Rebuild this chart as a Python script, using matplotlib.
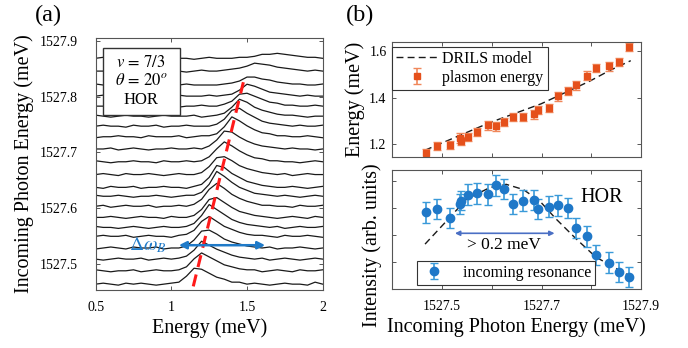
import numpy as np
import matplotlib.pyplot as plt
from matplotlib.patches import Rectangle

plt.rcParams['font.family'] = ['Liberation Serif', 'DejaVu Serif']
plt.rcParams['mathtext.fontset'] = 'stix'

# ------------------ PANEL (a): waterfall spectra ------------------
energy = [0.50, 0.55, 0.60, 0.65, 0.70, 0.75, 0.80, 0.85, 0.90, 0.95,
          1.00, 1.05, 1.10, 1.15, 1.20, 1.25, 1.30, 1.35, 1.40, 1.45,
          1.50, 1.55, 1.60, 1.65, 1.70, 1.75, 1.80, 1.85, 1.90, 1.95, 2.00]

# incoming photon energy (baseline) of every spectrum, bottom to top
incoming = [1527.463, 1527.487, 1527.508, 1527.528, 1527.549, 1527.565,
            1527.583, 1527.603, 1527.621, 1527.637, 1527.660, 1527.683,
            1527.706, 1527.728, 1527.747, 1527.765, 1527.783, 1527.801,
            1527.821, 1527.846, 1527.869]

# spectra (arb. units, same order as incoming)
spectra = [
    [0, 1, 0, -1, 1, 0, 1, 0, -1, 0, 1, 2, 8, 16, 15, 11, 7, 5, 2, 2, 0, 1, 0, -1, 0, 1, 0, 0, -1, 2, 0],
    [1, 0, -1, 0, 0, 1, -1, 0, 1, 0, 0, 1, 4, 12, 18, 14, 10, 6, 4, 2, 1, 1, -1, 0, 1, 0, -1, 1, 0, 0, 1],
    [0, -1, 0, 1, 0, 0, 1, -1, 0, 1, 0, 1, 3, 9, 18, 14, 10, 7, 4, 2, 1, 0, 1, -1, 0, 1, 0, -1, 0, 1, 0],
    [-1, 0, 1, 0, -1, 1, 0, 0, 1, -1, 0, 0, 2, 8, 17, 18, 14, 9, 6, 4, 2, 1, 0, 1, -1, 0, 0, 1, 0, -1, 0],
    [0, 1, 0, 0, 1, -1, 0, 1, 0, 0, -1, 1, 2, 6, 15, 20, 15, 10, 7, 4, 2, 1, 1, 0, -1, 1, 0, 0, 1, 0, -1],
    [1, 0, 0, -1, 0, 1, 0, -1, 0, 1, 0, 0, 1, 4, 12, 23, 18, 13, 8, 5, 3, 2, 1, 0, 1, -1, 0, 1, 0, 0, 1],
    [0, 0, 1, 0, -1, 0, 1, 0, 0, -1, 1, 0, 0, 2, 8, 18, 20, 15, 10, 6, 4, 2, 1, 0, -1, 0, 1, 0, -1, 1, 0],
    [0, 1, -1, 0, 1, 0, 0, 1, -1, 0, 0, 1, 0, 2, 7, 17, 23, 18, 12, 8, 5, 3, 1, 1, 0, 0, -1, 1, 0, 0, 1],
    [1, 0, 0, 1, 0, -1, 0, 0, 1, 0, -1, 0, 1, 1, 4, 12, 25, 20, 14, 9, 6, 3, 2, 1, 0, 1, 0, -1, 0, 1, 0],
    [0, -1, 1, 0, 0, 1, -1, 0, 0, 1, 0, 0, -1, 1, 3, 10, 22, 20, 14, 10, 6, 4, 2, 1, 0, 0, 1, 0, -1, 0, 1],
    [0, 1, 0, -1, 1, 0, 0, 1, 0, -1, 0, 1, 0, 0, 2, 8, 17, 18, 14, 9, 6, 4, 2, 1, 0, 1, -1, 0, 1, 0, 0],
    [1, 0, -1, 0, 0, 1, 0, 0, -1, 1, 0, 0, 1, 0, 1, 5, 13, 20, 16, 11, 7, 4, 3, 1, 1, 0, 0, -1, 0, 1, 0],
    [0, 0, 1, -1, 0, 1, 0, -1, 0, 0, 1, 0, 0, 1, 0, 3, 9, 18, 17, 12, 8, 5, 3, 2, 1, 0, 1, 0, 0, -1, 0],
    [-1, 0, 0, 1, 0, 0, -1, 1, 0, 0, 0, 1, -1, 0, 1, 1, 3, 10, 20, 16, 11, 7, 4, 3, 1, 1, 0, 0, 1, 0, -1],
    [0, 1, 0, 0, -1, 1, 0, 0, 1, -1, 0, 0, 1, 0, 0, 0, 2, 7, 16, 18, 13, 9, 5, 3, 2, 1, 0, 1, 0, 0, 1],
    [1, 0, -1, 0, 1, 0, 0, -1, 0, 1, 0, 0, 0, 1, -1, 0, 1, 3, 9, 17, 14, 9, 6, 4, 2, 1, 1, 0, -1, 0, 0],
    [0, 0, 1, 0, 0, -1, 1, 0, 0, 0, 1, -1, 0, 0, 1, 0, 0, 2, 5, 12, 13, 10, 7, 4, 3, 1, 1, 0, 0, 1, 0],
    [0, 1, 0, -1, 0, 0, 1, 0, -1, 0, 0, 1, 0, 0, 0, 1, 0, 1, 2, 6, 12, 10, 7, 4, 3, 2, 1, 0, 1, 0, 0],
    [1, 0, 0, 0, 1, -1, 0, 0, 1, 0, -1, 0, 1, 0, 0, 0, 0, 1, 2, 4, 8, 8, 6, 5, 3, 2, 1, 1, 0, 0, 1],
    [0, 0, 1, 0, -1, 0, 0, 1, 0, 0, 1, 0, -1, 0, 1, 0, 0, 1, 2, 3, 5, 8, 7, 6, 4, 3, 2, 1, 0, 1, 0],
    [0, 1, 0, 0, 0, -1, 1, 0, 0, 1, 0, 0, 0, -1, 0, 1, 0, 0, 0, 1, 1, 2, 4, 4, 5, 4, 3, 2, 1, 1, 0],
]
unit = 0.1 / 56  # meV of vertical offset per intensity unit

peak_line_x = [1.145, 1.476]
peak_line_y = [1527.459, 1527.826]

# ------------------ PANEL (b) ------------------
photon = [1527.467, 1527.491, 1527.516, 1527.536, 1527.538, 1527.553,
          1527.571, 1527.593, 1527.609, 1527.624, 1527.643, 1527.663,
          1527.685, 1527.693, 1527.714, 1527.733, 1527.753, 1527.770,
          1527.791, 1527.809, 1527.836, 1527.856, 1527.875]
plasmon = [1.160, 1.191, 1.196, 1.227, 1.214, 1.231, 1.253, 1.281, 1.277,
           1.296, 1.317, 1.317, 1.328, 1.346, 1.356, 1.406, 1.428, 1.453,
           1.496, 1.528, 1.535, 1.553, 1.620]
plasmon_err = [0.020, 0.018, 0.018, 0.020, 0.018, 0.018, 0.018, 0.018, 0.020,
               0.018, 0.018, 0.018, 0.020, 0.018, 0.018, 0.018, 0.018, 0.018,
               0.018, 0.018, 0.018, 0.018, 0.018]
model_x = [1527.466, 1527.596, 1527.699, 1527.796, 1527.836, 1527.879]
model_y = [1.174, 1.293, 1.374, 1.471, 1.517, 1.560]

resonance = [2.83, 2.96, 2.62, 3.14, 3.27, 3.49, 3.54, 3.50, 3.83, 3.70, 3.14,
             3.27, 3.29, 2.96, 3.05, 3.09, 3.00, 2.25, 1.95, 1.26, 0.97, 0.63,
             0.45]
resonance_err = [0.38, 0.38, 0.36, 0.38, 0.36, 0.38, 0.38, 0.38, 0.38, 0.36,
                 0.36, 0.38, 0.38, 0.36, 0.38, 0.38, 0.36, 0.38, 0.38, 0.36,
                 0.38, 0.36, 0.38]
fit_x = [1527.466, 1527.516, 1527.549, 1527.596, 1527.629, 1527.663,
         1527.696, 1527.729, 1527.769, 1527.809, 1527.876]
fit_y = [1.66, 2.65, 3.32, 3.75, 3.87, 3.68, 3.26, 2.59, 1.86, 1.18, 0.49]

# ------------------ FIGURE ------------------
fig = plt.figure(figsize=(6.88, 3.48), dpi=100)
frame_col = '#555555'

def style(ax):
    ax.tick_params(direction='in', top=True, right=True, length=3,
                   width=0.7, color=frame_col, labelsize=10)
    for s in ax.spines.values():
        s.set_color(frame_col)
        s.set_linewidth(0.8)

# ---- (a)
axa = fig.add_axes([0.139, 0.1675, 0.330, 0.7225])
for base, vals in zip(incoming, spectra):
    axa.plot(energy, base + np.array(vals) * unit, color='#1a1a1a', lw=0.9)
axa.plot(peak_line_x, peak_line_y, color='#ff1a1a', lw=2.2,
         dashes=(4, 2.5), zorder=5)
axa.annotate('', xy=(1.05, 1527.533), xytext=(1.62, 1527.533),
             arrowprops=dict(arrowstyle='<|-|>', color='#1f7ac8', lw=1.8,
                             mutation_scale=11, shrinkA=0, shrinkB=0), zorder=6)
axa.text(0.845, 1527.534, r'$\Delta\omega_B$', color='#1f7ac8', fontsize=14,
         ha='center', va='center')
axa.add_patch(Rectangle((0.031, 0.695), 0.340, 0.265, transform=axa.transAxes,
                        facecolor='white', edgecolor='#333333', lw=1, zorder=7))
for ty, txt in zip([0.901, 0.829, 0.754], [r'$v\,=\,7/3$', r'$\theta\,=\,20^o$', 'HOR']):
    axa.text(0.201, ty, txt, transform=axa.transAxes, ha='center', va='center',
             fontsize=12, zorder=8)
axa.set_xlim(0.5, 2.0)
axa.set_ylim(1527.453, 1527.905)
axa.set_xticks([0.5, 1.0, 1.5, 2.0])
axa.set_xticklabels(['0.5', '1', '1.5', '2'])
yt = [1527.5, 1527.6, 1527.7, 1527.8, 1527.9]
axa.set_yticks(yt)
axa.set_yticklabels([f'{v:.1f}' for v in yt])
style(axa)
axa.tick_params(axis='y', pad=13)
axa.tick_params(axis='x', pad=8)
axa.set_xlabel('Energy (meV)', fontsize=14.5, labelpad=3)
axa.set_ylabel('Incoming Photon Energy (meV)', fontsize=14.5, labelpad=4)

# ---- (b) top
axt = fig.add_axes([0.570, 0.549, 0.362, 0.330])
axt.plot(model_x, model_y, color='#1a1a1a', lw=1, dashes=(5, 3),
         label='DRILS model')
axt.errorbar(photon, plasmon, yerr=plasmon_err, fmt='s', ms=5,
             color='#e5501b', ecolor='#f0875a', elinewidth=1.2, capsize=3,
             label='plasmon energy')
axt.set_xlim(1527.4, 1527.9)
axt.set_ylim(1.145, 1.64)
axt.set_xticks([1527.5, 1527.6, 1527.7, 1527.8])
axt.set_xticklabels([])
axt.set_yticks([1.2, 1.4, 1.6])
axt.set_yticklabels(['1.2', '1.4', '1.6'])
style(axt)
axt.tick_params(axis='y', pad=4)
axt.set_ylabel('Energy (meV)', fontsize=14.5, labelpad=3)
leg = axt.legend(loc='upper left', bbox_to_anchor=(0.0, 0.96), borderaxespad=0,
                 fontsize=11.5, fancybox=False, framealpha=1, handlelength=2.6,
                 handletextpad=0.3, borderpad=0.25, labelspacing=0.2)
leg.get_frame().set_edgecolor('#333333')
leg.get_frame().set_linewidth(0.8)

# ---- (b) bottom
axb = fig.add_axes([0.570, 0.1695, 0.362, 0.342])
axb.plot(fit_x, fit_y, color='#1a1a1a', lw=1, dashes=(5, 3))
axb.errorbar(photon, resonance, yerr=resonance_err, fmt='o', ms=6,
             color='#1f78c8', ecolor='#3a9ad9', elinewidth=1.2, capsize=3,
             label='incoming resonance')
axb.annotate('', xy=(1527.526, 2.06), xytext=(1527.726, 2.06),
             arrowprops=dict(arrowstyle='<|-|>', color='#4a6fc4', lw=1.2,
                             mutation_scale=7, shrinkA=0, shrinkB=0))
axb.text(1527.624, 1.62, '> 0.2 meV', fontsize=12.5, ha='center', va='center')
axb.text(1527.82, 3.39, 'HOR', fontsize=14.5, ha='center', va='center')
axb.set_xlim(1527.4, 1527.9)
axb.set_ylim(0, 4.4)
axb.set_xticks([1527.5, 1527.6, 1527.7, 1527.8, 1527.9])
axb.set_xticklabels(['1527.5', '', '1527.7', '', '1527.9'])
axb.set_yticks([1, 2, 3, 4])
axb.set_yticklabels([])
style(axb)
axb.tick_params(axis='x', pad=8)
axb.set_xlabel('Incoming Photon Energy (meV)', fontsize=14.5, labelpad=3)
axb.set_ylabel('Intensity (arb. units)', fontsize=14.5)
axb.yaxis.set_label_coords(-0.04, 0.37)
leg2 = axb.legend(loc='lower left', bbox_to_anchor=(0.10, 0.034), borderaxespad=0,
                  fontsize=11.5, fancybox=False, framealpha=1, handlelength=1.6,
                  handletextpad=1.0, borderpad=0.25)
leg2.get_frame().set_edgecolor('#333333')
leg2.get_frame().set_linewidth(0.8)

fig.text(0.071, 0.957, '(a)', fontsize=17.5, ha='center', va='center')
fig.text(0.523, 0.957, '(b)', fontsize=17.5, ha='center', va='center')

fig.savefig('out.png', dpi=100)
